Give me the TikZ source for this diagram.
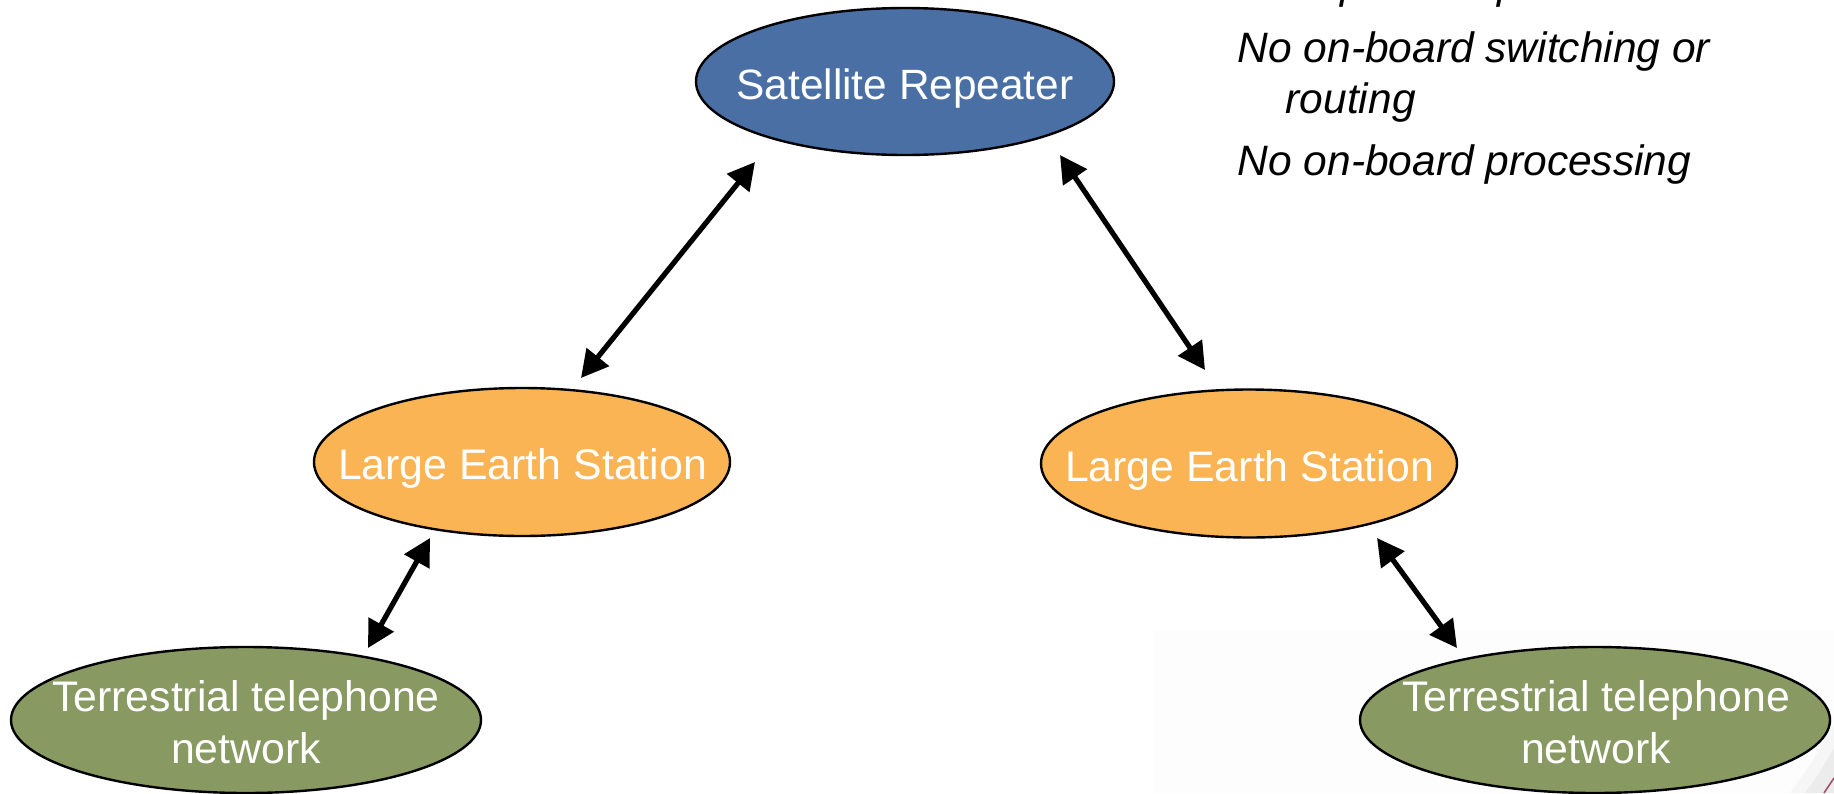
\documentclass[tikz,border=0pt]{standalone}
\usepackage{fontspec}
\setmainfont{Liberation Sans}
\usetikzlibrary{arrows.meta,shapes.geometric}
\tikzset{
  bub/.style={ellipse,draw=black,line width=2.4pt,inner sep=0pt,outer sep=0pt},
  lbl/.style={text=white,font=\fontsize{42.8}{51.7}\selectfont,align=center,inner sep=0pt,anchor=base},
  lblsat/.style={lbl,font=\fontsize{42.4}{51.7}\selectfont},
  note/.style={text=black,font=\fontsize{42.5}{51.7}\selectfont\itshape,inner sep=0pt,anchor=base west},
  dbl/.style={line width=5.2pt,{Triangle[length=27pt,width=28pt]}-{Triangle[length=27pt,width=28pt]},shorten <=0pt,shorten >=0pt}
}
\definecolor{sat}{HTML}{4A6FA5}
\definecolor{les}{HTML}{FBB454}
\definecolor{ter}{HTML}{889962}
\definecolor{faint}{HTML}{FDFDFD}
\definecolor{swooshlight}{HTML}{F6F6F6}
\definecolor{swoosh}{HTML}{ECECEC}
\definecolor{swred}{HTML}{A8506C}
\begin{document}
\begin{tikzpicture}[x=1pt,y=-1pt]
\useasboundingbox (0,0) rectangle (1834,793);
\fill[faint] (1153,630) rectangle (1834,793);
\fill[swooshlight] (1834,725) -- (1834,793) -- (1790,793) -- (1812,762) -- cycle;
\fill[swoosh] (1834,748) -- (1834,793) -- (1805,793) -- (1818,775) -- cycle;
\draw[swred,line width=1.6pt] (1834,778) -- (1824,793);
\node[bub,fill=sat,minimum width=418pt,minimum height=147pt] (s) at (905,81.5) {};
\node[bub,fill=les,minimum width=416pt,minimum height=148pt] (a) at (522,462) {};
\node[bub,fill=les,minimum width=416pt,minimum height=148pt] (b) at (1249,463.5) {};
\node[bub,fill=ter,minimum width=470pt,minimum height=146pt] (c) at (246,720) {};
\node[bub,fill=ter,minimum width=470pt,minimum height=146pt] (d) at (1595,720) {};
\node[lblsat] (st) at (905,99) {Satellite Repeater};
\node[lbl] (at) at (522.5,479) {Large Earth Station};
\node[lbl] (bt) at (1249.5,481) {Large Earth Station};
\node[lbl] (ct) at (246,711.7) {Terrestrial telephone};
\node[lbl] (cu) at (246,763) {network};
\node[lbl] (dt) at (1596,711.7) {Terrestrial telephone};
\node[lbl] (du) at (1596,763) {network};
\node[note] (p1) at (1340,-1.3) {p};
\node[note] (p2) at (1497,-1.3) {p};
\node[note] (n1) at (1237.5,62) {No on-board switching or};
\node[note] (n2) at (1285.5,113) {routing};
\node[note] (n3) at (1237.5,175) {No on-board processing};
\coordinate (e1) at (755,162);
\coordinate (e2) at (581,378);
\coordinate (e3) at (1060,155);
\coordinate (e4) at (1205,370);
\coordinate (e5) at (430,538);
\coordinate (e6) at (368,648);
\coordinate (e7) at (1377,538);
\coordinate (e8) at (1457,648);
\draw[dbl] (e1) -- (e2);
\draw[dbl] (e3) -- (e4);
\draw[dbl] (e5) -- (e6);
\draw[dbl] (e7) -- (e8);
\end{tikzpicture}
\end{document}
